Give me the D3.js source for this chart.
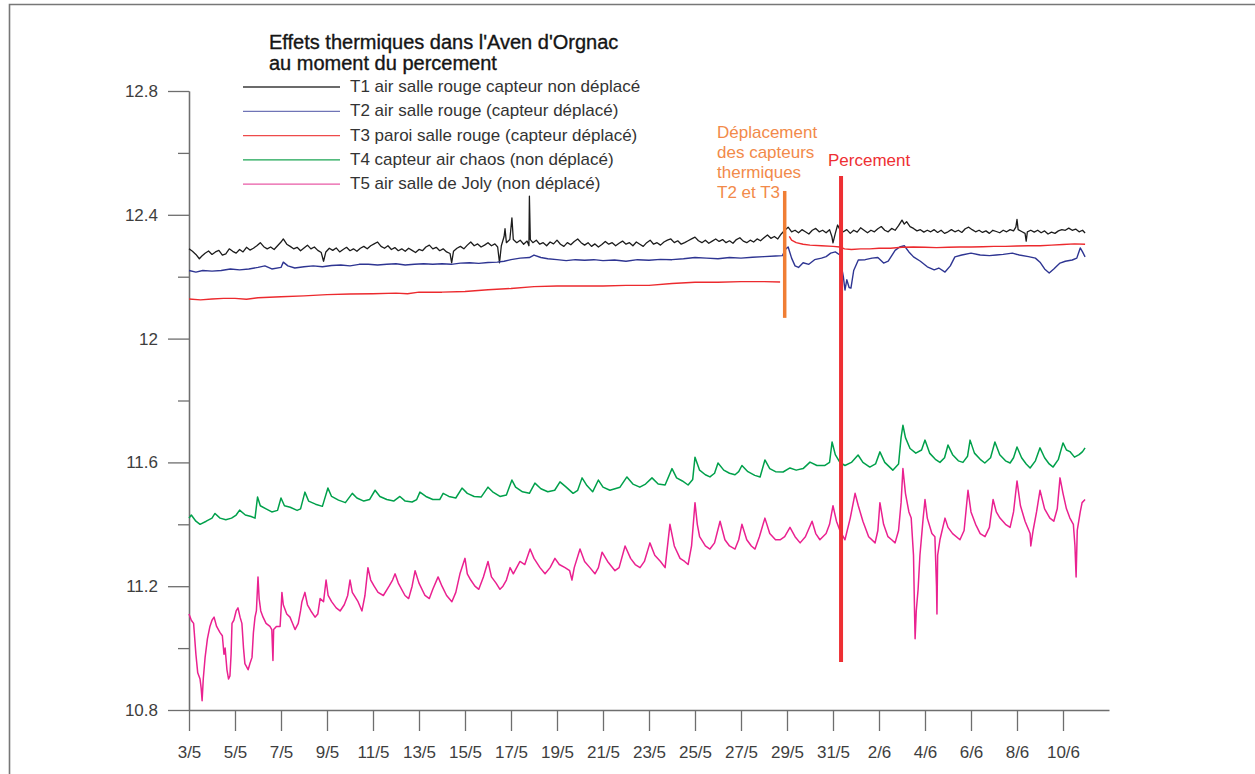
<!DOCTYPE html>
<html>
<head>
<meta charset="utf-8">
<script src="https://cdn.jsdelivr.net/npm/d3@7"></script>
<style>
  html, body { margin: 0; padding: 0; background: #fff; }
  svg { display: block; font-family: "Liberation Sans", Arial, Helvetica, sans-serif; }
</style>
</head>
<body>
<script>
// Temperatures (°C) in the Aven d'Orgnac, May–June.
// Each reading is [days since 3/5 00:00, temperature].
const xTickLabels = ["3/5","5/5","7/5","9/5","11/5","13/5","15/5","17/5","19/5","21/5",
  "23/5","25/5","27/5","29/5","31/5","2/6","4/6","6/6","8/6","10/6"];
const yMajorTicks = [10.8, 11.2, 11.6, 12, 12.4, 12.8];
const yMinorTicks = [11.0, 11.4, 11.8, 12.2, 12.6];

const seriesNames = [
  "T1 air salle rouge capteur non déplacé",
  "T2 air salle rouge (capteur déplacé)",
  "T3 paroi salle rouge (capteur déplacé)",
  "T4 capteur air chaos (non déplacé)",
  "T5 air salle de Joly (non déplacé)"
];

const t1 = [[0,12.29],[0.15,12.282],[0.3,12.272],[0.45,12.258],[0.55,12.266],[0.7,12.276],[0.85,12.283],[1.0,12.272],[1.15,12.28],[1.3,12.285],[1.45,12.27],[1.6,12.274],[1.75,12.29],[1.9,12.282],[2.05,12.276],[2.2,12.288],[2.35,12.28],[2.5,12.295],[2.65,12.286],[2.8,12.292],[2.95,12.3],[3.1,12.31],[3.25,12.297],[3.4,12.29],[3.55,12.296],[3.7,12.288],[3.85,12.3],[4.0,12.312],[4.1,12.322],[4.25,12.305],[4.4,12.298],[4.55,12.29],[4.7,12.295],[4.85,12.284],[5.0,12.293],[5.15,12.302],[5.3,12.29],[5.45,12.296],[5.6,12.285],[5.75,12.278],[5.85,12.25],[5.95,12.28],[6.1,12.292],[6.25,12.285],[6.4,12.293],[6.55,12.28],[6.7,12.288],[6.85,12.295],[7.0,12.284],[7.15,12.29],[7.3,12.282],[7.45,12.292],[7.6,12.298],[7.75,12.29],[7.9,12.3],[8.05,12.306],[8.2,12.312],[8.35,12.298],[8.5,12.292],[8.65,12.3],[8.8,12.288],[8.95,12.294],[9.1,12.284],[9.25,12.29],[9.4,12.282],[9.55,12.292],[9.7,12.285],[9.85,12.278],[10.0,12.288],[10.15,12.284],[10.3,12.296],[10.45,12.302],[10.6,12.29],[10.75,12.295],[10.9,12.284],[11.05,12.29],[11.2,12.28],[11.35,12.275],[11.42,12.245],[11.5,12.282],[11.65,12.292],[11.8,12.298],[11.95,12.29],[12.1,12.302],[12.25,12.312],[12.4,12.3],[12.55,12.306],[12.7,12.296],[12.85,12.302],[13.0,12.31],[13.15,12.3],[13.3,12.306],[13.42,12.296],[13.5,12.245],[13.58,12.3],[13.7,12.33],[13.74,12.355],[13.8,12.31],[13.95,12.32],[14.04,12.39],[14.1,12.32],[14.25,12.31],[14.4,12.318],[14.55,12.305],[14.7,12.315],[14.78,12.3],[14.8,12.46],[14.84,12.32],[14.95,12.31],[15.1,12.318],[15.25,12.305],[15.4,12.31],[15.55,12.3],[15.7,12.312],[15.85,12.306],[16.0,12.318],[16.15,12.305],[16.3,12.298],[16.45,12.31],[16.6,12.303],[16.75,12.314],[16.9,12.322],[17.05,12.31],[17.2,12.302],[17.35,12.31],[17.5,12.298],[17.65,12.306],[17.8,12.296],[17.95,12.304],[18.1,12.314],[18.25,12.305],[18.4,12.31],[18.55,12.3],[18.7,12.308],[18.85,12.315],[19.0,12.305],[19.15,12.31],[19.3,12.3],[19.45,12.312],[19.6,12.305],[19.75,12.298],[19.9,12.31],[20.05,12.318],[20.2,12.305],[20.35,12.31],[20.5,12.302],[20.65,12.312],[20.8,12.318],[20.95,12.322],[21.1,12.31],[21.25,12.316],[21.4,12.305],[21.55,12.31],[21.7,12.316],[21.85,12.322],[22.0,12.328],[22.15,12.316],[22.3,12.31],[22.45,12.318],[22.6,12.308],[22.75,12.315],[22.9,12.322],[23.05,12.314],[23.2,12.32],[23.35,12.31],[23.5,12.316],[23.65,12.308],[23.8,12.32],[23.95,12.326],[24.1,12.315],[24.25,12.31],[24.4,12.318],[24.55,12.312],[24.7,12.322],[24.85,12.316],[25.0,12.326],[25.15,12.335],[25.3,12.324],[25.45,12.33],[25.6,12.322],[25.75,12.338],[25.9,12.35],[26.05,12.36],[26.2,12.345],[26.35,12.35],[26.5,12.342],[26.65,12.352],[26.8,12.345],[26.95,12.338],[27.1,12.35],[27.25,12.356],[27.4,12.345],[27.55,12.35],[27.7,12.342],[27.85,12.352],[27.95,12.33],[28.0,12.309],[28.1,12.34],[28.2,12.367],[28.3,12.352],[28.45,12.345],[28.6,12.352],[28.75,12.34],[28.9,12.35],[29.05,12.344],[29.2,12.358],[29.35,12.35],[29.5,12.342],[29.65,12.35],[29.8,12.345],[29.95,12.355],[30.1,12.362],[30.25,12.35],[30.4,12.345],[30.55,12.356],[30.7,12.35],[30.85,12.365],[31.0,12.383],[31.1,12.37],[31.2,12.378],[31.35,12.362],[31.5,12.356],[31.65,12.348],[31.8,12.352],[31.95,12.344],[32.1,12.35],[32.25,12.345],[32.4,12.352],[32.55,12.343],[32.7,12.35],[32.85,12.34],[33.0,12.345],[33.15,12.352],[33.3,12.345],[33.45,12.35],[33.6,12.343],[33.75,12.355],[33.9,12.36],[34.05,12.352],[34.2,12.345],[34.35,12.35],[34.5,12.343],[34.65,12.348],[34.8,12.34],[34.95,12.35],[35.1,12.346],[35.25,12.342],[35.4,12.35],[35.55,12.345],[35.7,12.352],[35.85,12.348],[35.95,12.36],[36.0,12.385],[36.05,12.352],[36.2,12.346],[36.35,12.34],[36.4,12.315],[36.45,12.345],[36.6,12.35],[36.75,12.344],[36.9,12.35],[37.05,12.342],[37.2,12.348],[37.35,12.338],[37.5,12.344],[37.65,12.34],[37.8,12.348],[37.95,12.352],[38.1,12.35],[38.25,12.357],[38.4,12.35],[38.55,12.354],[38.7,12.345],[38.85,12.35],[38.96,12.341]];

const t2 = [[0,12.22],[0.3,12.215],[0.6,12.22],[1.0,12.218],[1.4,12.22],[1.8,12.225],[2.2,12.222],[2.6,12.225],[3.0,12.23],[3.3,12.235],[3.6,12.225],[4.0,12.23],[4.1,12.247],[4.3,12.235],[4.6,12.228],[5.0,12.232],[5.4,12.235],[5.8,12.232],[6.2,12.236],[6.6,12.238],[7.0,12.235],[7.4,12.24],[7.8,12.24],[8.2,12.238],[8.6,12.24],[9.0,12.242],[9.4,12.238],[9.8,12.24],[10.2,12.242],[10.6,12.24],[11.0,12.242],[11.4,12.24],[11.8,12.244],[12.2,12.245],[12.6,12.243],[13.0,12.246],[13.4,12.247],[13.7,12.25],[14.0,12.255],[14.4,12.26],[14.8,12.262],[15.0,12.27],[15.3,12.262],[15.6,12.258],[16.0,12.255],[16.4,12.252],[16.8,12.255],[17.2,12.253],[17.6,12.255],[18.0,12.252],[18.5,12.254],[19.0,12.25],[19.5,12.255],[20.0,12.253],[20.5,12.256],[21.0,12.255],[21.5,12.258],[22.0,12.262],[22.5,12.26],[23.0,12.258],[23.5,12.262],[24.0,12.26],[24.5,12.263],[25.0,12.265],[25.5,12.267],[25.8,12.268],[25.95,12.29],[26.05,12.296],[26.2,12.26],[26.35,12.235],[26.5,12.23],[26.7,12.245],[26.95,12.24],[27.2,12.255],[27.5,12.26],[27.7,12.265],[27.9,12.276],[28.1,12.28],[28.3,12.27],[28.35,12.24],[28.45,12.2],[28.52,12.157],[28.6,12.19],[28.7,12.165],[28.78,12.163],[28.9,12.22],[29.1,12.254],[29.4,12.255],[29.7,12.26],[29.95,12.262],[30.2,12.244],[30.4,12.25],[30.7,12.285],[30.9,12.296],[31.1,12.3],[31.3,12.28],[31.5,12.264],[31.8,12.25],[32.1,12.232],[32.4,12.222],[32.6,12.228],[32.87,12.215],[33.1,12.235],[33.3,12.264],[33.6,12.27],[34.0,12.276],[34.4,12.27],[34.8,12.268],[35.1,12.27],[35.4,12.272],[35.8,12.276],[36.1,12.27],[36.5,12.265],[36.8,12.26],[37.0,12.247],[37.2,12.225],[37.4,12.212],[37.6,12.225],[37.87,12.244],[38.1,12.25],[38.4,12.254],[38.6,12.26],[38.75,12.293],[38.85,12.28],[38.96,12.264]];

// T3 has no readings while the sensor was being moved (null = gap).
const t3 = [[0,12.128],[0.5,12.125],[1.0,12.128],[1.5,12.13],[2,12.13],[2.5,12.127],[3,12.132],[4,12.135],[5,12.138],[6,12.142],[7,12.144],[8,12.145],[9,12.147],[9.5,12.145],[10,12.15],[11,12.15],[12,12.152],[13,12.158],[14,12.162],[15,12.168],[16,12.17],[17,12.17],[18,12.17],[19,12.172],[20,12.172],[21,12.178],[22,12.182],[23,12.182],[24,12.184],[25,12.184],[25.7,12.183],
  [25.9,null],
  [26.1,12.33],[26.2,12.318],[26.4,12.31],[26.7,12.305],[27.0,12.302],[27.5,12.3],[28.0,12.298],[28.3,12.296],[28.5,12.29],[28.8,12.288],[29.2,12.29],[29.6,12.29],[30.0,12.292],[30.5,12.292],[31.0,12.295],[31.5,12.296],[32,12.295],[32.5,12.294],[33,12.295],[33.5,12.296],[34,12.296],[34.5,12.297],[35,12.298],[35.5,12.298],[36,12.299],[36.5,12.3],[37,12.3],[37.5,12.302],[38,12.304],[38.5,12.306],[38.96,12.305]];

const t4 = [[0,11.42],[0.1,11.43],[0.3,11.41],[0.48,11.4],[0.75,11.41],[1.0,11.42],[1.13,11.435],[1.35,11.42],[1.6,11.415],[1.85,11.42],[2.05,11.43],[2.2,11.446],[2.45,11.43],[2.7,11.425],[2.87,11.42],[2.98,11.488],[3.1,11.46],[3.35,11.45],[3.6,11.44],[3.85,11.445],[4.0,11.485],[4.15,11.46],[4.4,11.455],[4.7,11.445],[4.85,11.45],[5.04,11.504],[5.2,11.475],[5.5,11.465],[5.8,11.458],[6.04,11.517],[6.2,11.49],[6.5,11.478],[6.8,11.47],[7.1,11.5],[7.3,11.485],[7.6,11.475],[7.85,11.48],[8.09,11.51],[8.3,11.49],[8.6,11.48],[8.9,11.475],[9.17,11.49],[9.4,11.475],[9.7,11.472],[9.9,11.48],[10.04,11.504],[10.3,11.49],[10.6,11.48],[10.9,11.48],[11.05,11.5],[11.3,11.49],[11.6,11.485],[11.87,11.517],[12.1,11.5],[12.4,11.49],[12.7,11.488],[13.0,11.52],[13.2,11.505],[13.52,11.49],[13.8,11.495],[14.04,11.543],[14.2,11.52],[14.5,11.505],[14.8,11.5],[15.04,11.533],[15.3,11.515],[15.6,11.505],[15.9,11.51],[16.13,11.537],[16.4,11.52],[16.7,11.5],[16.9,11.51],[17.09,11.55],[17.3,11.525],[17.55,11.505],[17.8,11.543],[18.0,11.52],[18.3,11.51],[18.74,11.52],[19.04,11.553],[19.3,11.53],[19.6,11.52],[19.85,11.53],[20.13,11.55],[20.4,11.53],[20.7,11.527],[21.0,11.58],[21.2,11.55],[21.45,11.54],[21.7,11.527],[21.9,11.545],[22.0,11.617],[22.2,11.575],[22.45,11.56],[22.65,11.553],[22.85,11.565],[23.0,11.598],[23.25,11.575],[23.5,11.565],[23.74,11.56],[23.9,11.57],[24.04,11.59],[24.3,11.57],[24.6,11.558],[24.83,11.553],[25.04,11.608],[25.25,11.58],[25.5,11.57],[25.83,11.569],[26.13,11.582],[26.4,11.575],[26.7,11.58],[27.0,11.601],[27.3,11.59],[27.65,11.59],[27.85,11.6],[27.96,11.666],[28.1,11.625],[28.3,11.6],[28.52,11.59],[28.8,11.6],[29.09,11.624],[29.3,11.6],[29.6,11.585],[29.85,11.595],[30.04,11.634],[30.25,11.6],[30.6,11.575],[30.85,11.595],[30.96,11.68],[31.04,11.72],[31.15,11.68],[31.35,11.645],[31.6,11.63],[31.85,11.64],[32.0,11.672],[32.2,11.63],[32.45,11.61],[32.65,11.6],[32.85,11.615],[33.0,11.656],[33.2,11.625],[33.45,11.605],[33.65,11.6],[33.85,11.62],[33.96,11.672],[34.15,11.63],[34.4,11.61],[34.6,11.598],[34.85,11.615],[35.04,11.666],[35.25,11.625],[35.5,11.605],[35.7,11.598],[35.85,11.615],[36.0,11.65],[36.2,11.615],[36.4,11.595],[36.57,11.582],[36.8,11.605],[37.0,11.647],[37.2,11.615],[37.4,11.595],[37.57,11.585],[37.8,11.61],[38.0,11.663],[38.15,11.64],[38.3,11.635],[38.5,11.617],[38.7,11.625],[38.85,11.635],[38.96,11.647]];

const t5 = [[0,11.11],[0.1,11.09],[0.2,11.08],[0.3,10.98],[0.38,10.92],[0.48,10.9],[0.53,10.87],[0.57,10.83],[0.62,10.9],[0.7,10.97],[0.8,11.03],[0.91,11.07],[1.0,11.09],[1.09,11.1],[1.2,11.07],[1.35,11.05],[1.45,11.04],[1.52,10.98],[1.57,11.0],[1.65,10.93],[1.72,10.9],[1.78,10.91],[1.83,10.98],[1.87,11.08],[1.95,11.09],[2.05,11.12],[2.13,11.13],[2.22,11.1],[2.3,11.08],[2.37,11.0],[2.43,10.95],[2.5,10.94],[2.57,10.93],[2.65,10.95],[2.74,10.97],[2.8,11.05],[2.87,11.1],[2.93,11.12],[3.0,11.23],[3.05,11.16],[3.12,11.12],[3.22,11.1],[3.35,11.08],[3.52,11.07],[3.6,11.06],[3.65,10.96],[3.68,11.06],[3.8,11.07],[3.96,11.07],[4.0,11.12],[4.04,11.18],[4.1,11.14],[4.25,11.11],[4.39,11.1],[4.5,11.08],[4.61,11.06],[4.75,11.08],[4.85,11.12],[4.91,11.15],[5.04,11.18],[5.15,11.14],[5.3,11.12],[5.48,11.1],[5.6,11.11],[5.7,11.16],[5.85,11.15],[5.96,11.22],[6.05,11.17],[6.2,11.15],[6.4,11.13],[6.57,11.12],[6.75,11.14],[6.9,11.17],[7.0,11.22],[7.1,11.18],[7.35,11.15],[7.52,11.12],[7.65,11.17],[7.78,11.26],[7.9,11.22],[8.05,11.2],[8.22,11.18],[8.45,11.17],[8.7,11.2],[8.85,11.22],[8.96,11.24],[9.1,11.21],[9.39,11.17],[9.55,11.16],[9.7,11.2],[9.83,11.25],[10.0,11.21],[10.26,11.17],[10.45,11.16],[10.6,11.19],[10.83,11.23],[11.0,11.2],[11.2,11.17],[11.43,11.15],[11.6,11.18],[11.78,11.24],[12.0,11.29],[12.1,11.24],[12.25,11.22],[12.43,11.2],[12.6,11.19],[12.8,11.23],[13.0,11.28],[13.15,11.23],[13.35,11.21],[13.52,11.19],[13.65,11.2],[13.8,11.22],[13.96,11.26],[14.1,11.24],[14.39,11.28],[14.6,11.27],[14.83,11.32],[15.0,11.29],[15.26,11.26],[15.48,11.24],[15.7,11.26],[15.91,11.29],[16.1,11.27],[16.35,11.26],[16.55,11.25],[16.65,11.22],[16.75,11.26],[17.0,11.32],[17.2,11.28],[17.43,11.26],[17.65,11.24],[17.8,11.26],[17.96,11.31],[18.2,11.28],[18.52,11.25],[18.7,11.26],[18.96,11.33],[19.2,11.29],[19.4,11.27],[19.61,11.26],[19.8,11.28],[20.04,11.34],[20.25,11.3],[20.5,11.28],[20.7,11.26],[20.91,11.4],[21.1,11.33],[21.35,11.29],[21.55,11.28],[21.7,11.27],[21.85,11.33],[22.0,11.47],[22.1,11.4],[22.2,11.36],[22.45,11.33],[22.65,11.32],[22.85,11.34],[23.09,11.41],[23.3,11.35],[23.5,11.33],[23.74,11.32],[23.9,11.35],[24.04,11.4],[24.25,11.35],[24.45,11.33],[24.61,11.32],[24.8,11.36],[25.04,11.42],[25.25,11.37],[25.5,11.35],[25.7,11.35],[25.9,11.36],[26.13,11.39],[26.35,11.36],[26.57,11.34],[26.8,11.36],[27.09,11.41],[27.25,11.37],[27.43,11.35],[27.7,11.37],[27.85,11.4],[28.0,11.46],[28.15,11.41],[28.3,11.38],[28.52,11.35],[28.75,11.42],[28.96,11.5],[29.1,11.46],[29.3,11.41],[29.55,11.36],[29.83,11.34],[29.95,11.38],[30.04,11.47],[30.2,11.4],[30.39,11.36],[30.55,11.35],[30.7,11.34],[30.85,11.38],[30.96,11.47],[31.04,11.58],[31.15,11.5],[31.3,11.44],[31.4,11.42],[31.5,11.3],[31.55,11.1],[31.57,11.03],[31.62,11.12],[31.7,11.19],[31.78,11.3],[31.85,11.36],[31.92,11.42],[32.0,11.48],[32.1,11.42],[32.3,11.37],[32.43,11.36],[32.5,11.2],[32.52,11.11],[32.55,11.3],[32.65,11.35],[32.87,11.42],[33.0,11.39],[33.2,11.37],[33.52,11.35],[33.7,11.38],[33.87,11.51],[34.0,11.44],[34.2,11.4],[34.4,11.37],[34.61,11.36],[34.8,11.39],[34.96,11.48],[35.1,11.44],[35.26,11.42],[35.5,11.4],[35.7,11.39],[35.85,11.44],[36.0,11.54],[36.15,11.46],[36.35,11.41],[36.57,11.37],[36.6,11.33],[36.7,11.38],[36.85,11.44],[37.0,11.51],[37.2,11.45],[37.43,11.42],[37.6,11.41],[37.75,11.45],[37.87,11.55],[38.0,11.5],[38.15,11.45],[38.3,11.42],[38.45,11.4],[38.52,11.33],[38.57,11.23],[38.62,11.38],[38.75,11.44],[38.83,11.47],[38.96,11.48]];

// Events: [day since 3/5, lower temperature, upper temperature] for the marker bar.
const moveEvent = [25.9, 12.067, 12.477];
const breakEvent = [28.35, 10.955, 12.525];

const lineColors = ["#1c1c1c", "#2e3592", "#ec2a2e", "#00a04b", "#ea2190"];
const lineWidths = [1.3, 1.4, 1.4, 1.5, 1.5];
const legendColors = ["#3a3a3a", "#6f74b6", "#ee4a4a", "#1aa553", "#e85aa6"];

const W = 1255, H = 774;
const svg = d3.select("body").append("svg").attr("width", W).attr("height", H);

// frame
svg.append("path")
  .attr("d", `M9.5,${H} V4.5 H${W}`)
  .attr("fill", "none").attr("stroke", "#777").attr("stroke-width", 1.6);

const parseDay = d3.utcParse("%d/%m");
const start = parseDay("3/5");
const end = parseDay("12/6");
const toDate = d => new Date(+start + d * 864e5);

const x = d3.scaleUtc().domain([start, end]).range([189, 1109]);
const y = d3.scaleLinear().domain([10.8, 12.8]).range([710, 91]);

const axisColor = "#6e6e6e";
function styleAxis(g) {
  g.selectAll(".domain").attr("stroke", axisColor).attr("stroke-width", 1.3);
  g.selectAll(".tick line").attr("stroke", axisColor).attr("stroke-width", 1.3);
  g.selectAll(".tick text").attr("fill", "#3e3e3e")
    .attr("font-size", 17).attr("font-family", "Liberation Sans, Arial, sans-serif");
}

// y axis: labelled major ticks + shorter minor ticks
svg.append("g").attr("transform", "translate(189,0)")
  .call(d3.axisLeft(y).tickValues(yMinorTicks).tickSize(11).tickSizeOuter(0).tickFormat(""))
  .call(styleAxis);
svg.append("g").attr("transform", "translate(189,0)")
  .call(d3.axisLeft(y).tickValues(yMajorTicks).tickSize(21).tickSizeOuter(0).tickPadding(10)
    .tickFormat(d3.format("~g")))
  .call(styleAxis);

// x axis
svg.append("g").attr("transform", "translate(0,710)")
  .call(d3.axisBottom(x).tickValues(xTickLabels.map(parseDay)).tickSize(21).tickSizeOuter(0)
    .tickPadding(15).tickFormat(d3.utcFormat("%-d/%-m")))
  .call(styleAxis);

// series
const line = d3.line()
  .defined(d => d[1] != null)
  .x(d => x(toDate(d[0])))
  .y(d => y(d[1]));

[t1, t2, t3, t4, t5].forEach((s, i) => {
  svg.append("path").datum(s)
    .attr("d", line)
    .attr("fill", "none")
    .attr("stroke", lineColors[i])
    .attr("stroke-width", lineWidths[i])
    .attr("stroke-linejoin", "round");
});

// event markers
const orange = "#f07e34", red = "#ee2f33";
svg.append("line")
  .attr("x1", x(toDate(moveEvent[0]))).attr("x2", x(toDate(moveEvent[0])))
  .attr("y1", y(moveEvent[1])).attr("y2", y(moveEvent[2]))
  .attr("stroke", orange).attr("stroke-width", 3.5);
svg.append("line")
  .attr("x1", x(toDate(breakEvent[0]))).attr("x2", x(toDate(breakEvent[0])))
  .attr("y1", y(breakEvent[1])).attr("y2", y(breakEvent[2]))
  .attr("stroke", red).attr("stroke-width", 4);

const moveText = svg.append("text").attr("fill", "#f28a4a").attr("font-size", 17);
["Déplacement", "des capteurs", "thermiques", "T2 et T3"].forEach((t, i) => {
  moveText.append("tspan").attr("x", 717).attr("y", 138 + i * 20).text(t);
});
svg.append("text").attr("x", 828).attr("y", 166).attr("fill", red)
  .attr("font-size", 17).text("Percement");

// title
const title = svg.append("text").attr("fill", "#151515").attr("font-size", 20)
  .attr("stroke", "#151515").attr("stroke-width", 0.35);
title.append("tspan").attr("x", 269).attr("y", 49).text("Effets thermiques dans l'Aven d'Orgnac");
title.append("tspan").attr("x", 269).attr("y", 70).text("au moment du percement");

// legend
const legend = svg.append("g");
seriesNames.forEach((name, i) => {
  const ly = 87 + i * 24.3;
  legend.append("line").attr("x1", 243).attr("x2", 340).attr("y1", ly).attr("y2", ly)
    .attr("stroke", legendColors[i]).attr("stroke-width", 1.3);
  legend.append("text").attr("x", 350).attr("y", ly + 5).attr("fill", "#333")
    .attr("font-size", 17).text(name);
});
</script>
</body>
</html>
